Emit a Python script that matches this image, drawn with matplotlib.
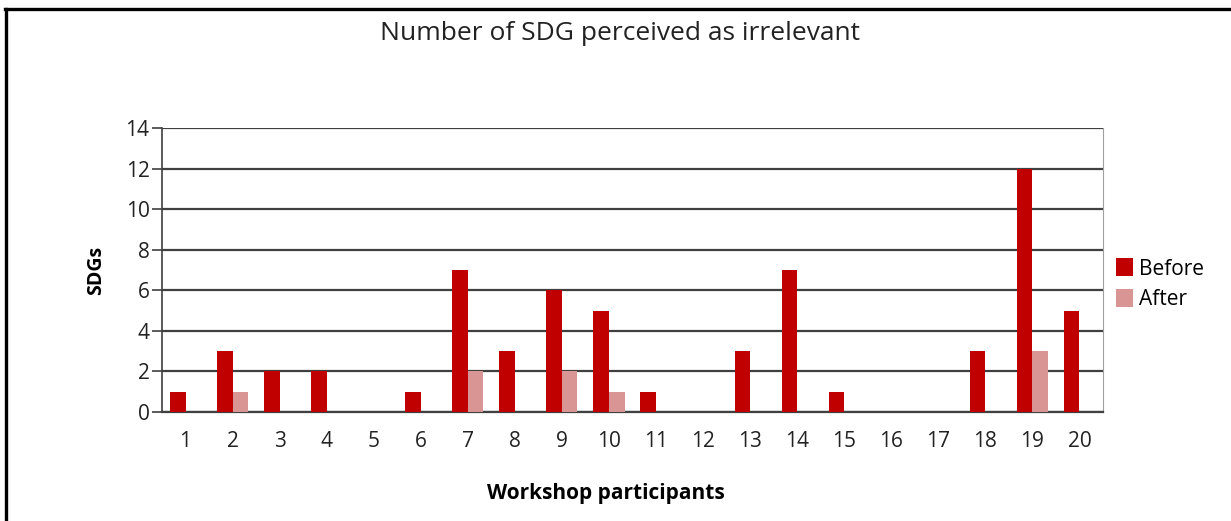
import matplotlib

matplotlib.use("Agg")

import matplotlib.pyplot as plt
import numpy as np
from matplotlib.lines import Line2D

participants = [str(i) for i in range(1, 21)]
before = [1, 3, 2, 2, 0, 1, 7, 3, 6, 5, 1, 0, 3, 7, 1, 0, 0, 3, 12, 5]
after = [0, 1, 0, 0, 0, 0, 2, 0, 2, 1, 0, 0, 0, 0, 0, 0, 0, 0, 3, 0]

plt.rcParams["font.family"] = ["Open Sans", "DejaVu Sans"]

W, H = 1231, 521
fig = plt.figure(figsize=(W / 100, H / 100), dpi=100)
ax = fig.add_axes([162 / W, 1 - 412 / H, (1103 - 162) / W, (412 - 128) / H])

x = np.arange(len(participants))
bw = 0.33
ax.bar(x - bw / 2, before, bw, color="#C00000", label="Before", zorder=3)
ax.bar(x + bw / 2, after, bw, color="#D99594", label="After", zorder=3)

ax.set_xlim(-0.5, len(participants) - 0.5)
ax.set_ylim(0, 14)
ax.set_yticks(range(0, 15, 2))
ax.set_xticks(x)
ax.set_xticklabels(participants)
ax.tick_params(axis="x", length=0, pad=14, labelsize=15, colors="#222222")
ax.tick_params(axis="y", length=7, width=1.2, color="#404040", pad=2, labelsize=15, labelcolor="#222222")
ax.grid(axis="y", color="#404040", linewidth=1.6, zorder=1)
ax.set_axisbelow(True)

ax.spines["top"].set_visible(False)
ax.spines["right"].set_color("#a0a0a0")
ax.spines["left"].set_color("#404040")
ax.spines["left"].set_linewidth(1.2)
ax.spines["bottom"].set_color("#404040")
ax.spines["bottom"].set_linewidth(1.6)

ax.set_ylabel("SDGs", fontsize=14, fontweight="bold", labelpad=14)
ax.set_xlabel("Workshop participants", fontsize=15, fontweight="bold")
ax.xaxis.set_label_coords((606 - 162) / 941, -0.25)
fig.text(620 / W, 1 - 33 / H, "Number of SDG perceived as irrelevant",
         fontsize=19, ha="center", va="center", color="#222222")

ax.legend(loc="center left", bbox_to_anchor=(1.0135, 0.45), frameon=False,
          borderpad=0, borderaxespad=0,
          fontsize=15, handlelength=0.85, handleheight=0.95, handletextpad=0.25,
          labelspacing=0.45)

# outer frame of the figure (top and left edges visible)
fig.add_artist(Line2D([5 / W, 1], [1 - 9 / H, 1 - 9 / H], transform=fig.transFigure,
                      color="black", linewidth=2.4))
fig.add_artist(Line2D([6 / W, 6 / W], [0, 1 - 9 / H], transform=fig.transFigure,
                      color="black", linewidth=2.4))

fig.savefig("out.png", dpi=100)
